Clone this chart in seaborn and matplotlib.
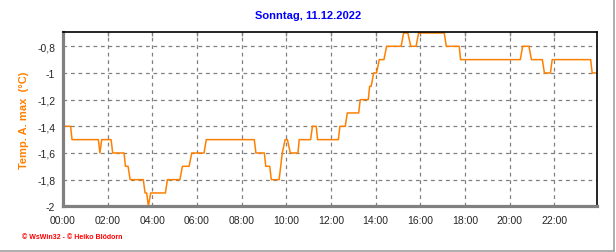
import matplotlib
matplotlib.use("Agg")
import matplotlib.pyplot as plt
import matplotlib.ticker as mticker
from matplotlib.lines import Line2D
import seaborn as sns
import pandas as pd

# ---- data (hours of day, temperature °C) ----
hours = [0.00, 0.35, 0.41, 1.59, 1.66, 1.74, 2.16, 2.23, 2.74, 2.80, 2.92, 3.01,
         3.60, 3.68, 3.75, 3.83, 3.93, 4.59, 4.68, 5.24, 5.35, 5.65, 5.77, 6.32,
         6.42, 8.57, 8.64, 9.02, 9.08, 9.26, 9.33, 9.68, 9.75, 9.82, 9.95, 10.05,
         10.18, 10.52, 10.58, 11.09, 11.17, 11.34, 11.40, 12.33, 12.40, 12.64, 12.73,
         13.24, 13.31, 13.67, 13.73, 13.80, 13.91, 14.04, 14.16, 14.37, 14.49, 15.14,
         15.25, 15.44, 15.57, 15.81, 15.92, 17.07, 17.16, 17.74, 17.80, 20.47, 20.58,
         20.86, 20.97, 21.46, 21.55, 21.82, 21.90, 23.62, 23.69, 23.84]
temps = [-1.4, -1.4, -1.5, -1.5, -1.6, -1.5, -1.5, -1.6, -1.6, -1.7, -1.7, -1.8,
         -1.8, -1.9, -1.9, -2.0, -1.9, -1.9, -1.8, -1.8, -1.7, -1.7, -1.6, -1.6,
         -1.5, -1.5, -1.6, -1.6, -1.7, -1.7, -1.8, -1.8, -1.7, -1.6, -1.5, -1.5,
         -1.6, -1.6, -1.5, -1.5, -1.4, -1.4, -1.5, -1.5, -1.4, -1.4, -1.3,
         -1.3, -1.2, -1.2, -1.1, -1.1, -1.0, -1.0, -0.9, -0.9, -0.8, -0.8,
         -0.7, -0.7, -0.8, -0.8, -0.7, -0.7, -0.8, -0.8, -0.9, -0.9, -0.8,
         -0.8, -0.9, -0.9, -1.0, -1.0, -0.9, -0.9, -1.0, -1.0]

x_ticks = [0, 2, 4, 6, 8, 10, 12, 14, 16, 18, 20, 22]
x_labels = ["00:00", "02:00", "04:00", "06:00", "08:00", "10:00", "12:00",
            "14:00", "16:00", "18:00", "20:00", "22:00"]
y_ticks = [-2.0, -1.8, -1.6, -1.4, -1.2, -1.0, -0.8]
y_labels = ["-2", "-1,8", "-1,6", "-1,4", "-1,2", "-1", "-0,8"]

title = "Sonntag, 11.12.2022"
ylabel = "Temp. A. max  (°C)"
footer = "© WsWin32 - © Heiko Blödorn"

sns.set_style("white")
plt.rcParams['font.family'] = ['Liberation Sans', 'DejaVu Sans']

ORANGE = "#ff8000"
GRAY = "#808080"

fig = plt.figure(figsize=(6.16, 2.53), dpi=100)
ax = fig.add_axes([0.102, 0.1806, 0.8677, 0.6878])

df = pd.DataFrame({"hour": hours, "temp": temps})
sns.lineplot(data=df, x="hour", y="temp", ax=ax, color=ORANGE, linewidth=1.1,
             estimator=None, sort=False)

ax.set_xlim(0, 23.92)
ax.set_ylim(-2.0, -0.695)

ax.set_xticks(x_ticks)
ax.set_xticklabels(x_labels, fontsize=7.5)
ax.xaxis.set_minor_locator(mticker.MultipleLocator(0.5))
ax.set_yticks(y_ticks)
ax.set_yticklabels(y_labels, fontsize=7.5)
ax.yaxis.set_minor_locator(mticker.MultipleLocator(0.04))

ax.tick_params(axis='x', which='major', direction='out', length=4, width=1,
               color=GRAY, pad=2)
ax.tick_params(axis='x', which='minor', direction='out', length=2.5, width=1,
               color=GRAY)
ax.tick_params(axis='y', which='major', direction='out', length=3.5, width=1,
               color=GRAY, pad=2)
ax.tick_params(axis='y', which='minor', direction='inout', length=3, width=0.8,
               color=GRAY)

ax.grid(True, which='major', color=GRAY, linestyle=(0, (3, 3)), linewidth=0.9)

for side in ['left', 'bottom']:
    ax.spines[side].set_color(GRAY)
    ax.spines[side].set_linewidth(2.3)
for side in ['top', 'right']:
    ax.spines[side].set_color('black')
    ax.spines[side].set_linewidth(1.2)

sec = ax.secondary_xaxis('top')
sec.set_xticks(x_ticks)
sec.set_xticklabels([])
sec.tick_params(direction='in', length=3, width=1, color=GRAY)
sec.spines['top'].set_visible(False)

ax.set_xlabel("")
ax.set_ylabel(ylabel, color=ORANGE, fontsize=8, fontweight='bold', labelpad=6)

fig.text(0.5, 0.935, title, ha='center', va='center', color='#0000ff',
         fontsize=8, fontweight='bold')
fig.text(0.036, 0.06, footer, ha='left', va='center', color='#ff0000',
         fontsize=5, fontweight='bold')

fig.add_artist(Line2D([0, 0.997], [0.004, 0.004], transform=fig.transFigure,
                      color='#a0a0a0', linewidth=1.2))
fig.add_artist(Line2D([0.997, 0.997], [0.004, 1], transform=fig.transFigure,
                      color='#a0a0a0', linewidth=1.2))

fig.savefig("out.png", dpi=100)
